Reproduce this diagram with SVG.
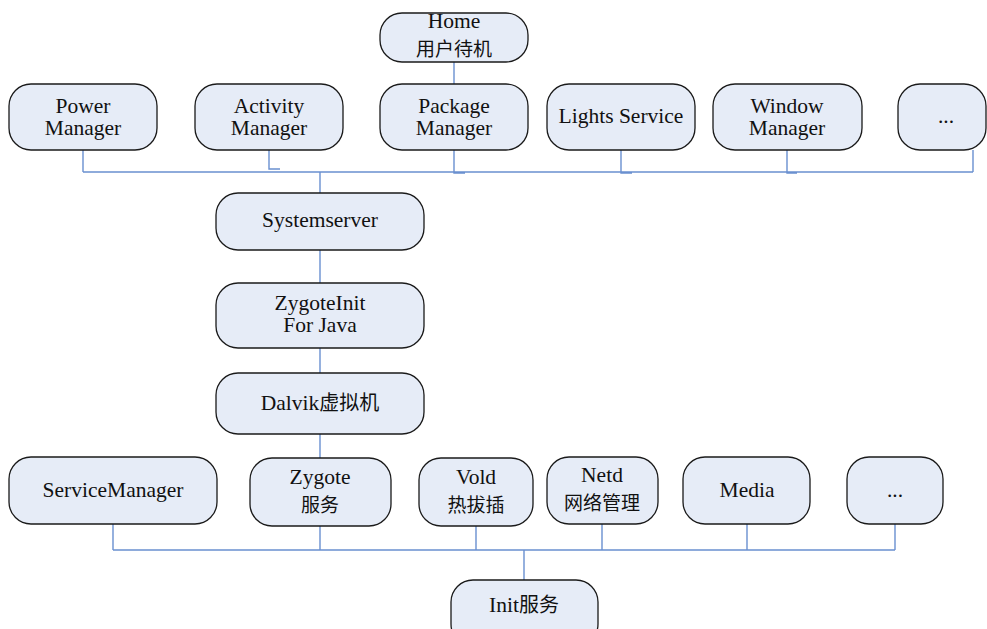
<svg xmlns="http://www.w3.org/2000/svg" width="987" height="629" viewBox="0 0 987 629">
<style>
.n rect{fill:#e6ecf7;stroke:#1a1a1a;stroke-width:1.3}
.n text{font-family:"Liberation Serif","Times New Roman",serif;font-size:21.5px;fill:#111;text-anchor:middle}
.n .z{font-family:"Noto Sans CJK SC","Liberation Serif",sans-serif;font-size:20px}
.n .z2{font-family:"Noto Sans CJK SC","Liberation Serif",sans-serif;font-size:19px}
.c{fill:none;stroke:#6a90d0;stroke-width:1.4}
</style>
<rect width="987" height="629" fill="#fff"/>
<g id="connectors">
<path class="c" d="M454,62V84"/>
<path class="c" d="M83,150V172M269,150V169H280M454,150V173H465M621,150V173H632M787,150V173H797M973,150V172M83,172H973M320,172V193"/>
<path class="c" d="M320,250V283M320,348V373M320,434V458"/>
<path class="c" d="M113,524V550M320,526V550M476,526V550M602,524V550M747,524V550M895,524V550M113,550H895M524,550V580"/>
</g>
<g id="home" class="n"><rect x="380" y="13" width="148" height="49" rx="22"/><text x="454" y="28">Home</text><text class="z2" x="454" y="55.5">用户待机</text></g>
<g id="power" class="n"><rect x="9" y="84" width="148" height="66" rx="22"/><text x="83" y="113">Power</text><text x="83" y="135">Manager</text></g>
<g id="activity" class="n"><rect x="195" y="84" width="148" height="66" rx="22"/><text x="269" y="113">Activity</text><text x="269" y="135">Manager</text></g>
<g id="package" class="n"><rect x="380" y="84" width="148" height="66" rx="22"/><text x="454" y="113">Package</text><text x="454" y="135">Manager</text></g>
<g id="lights" class="n"><rect x="547" y="84" width="148" height="66" rx="22"/><text x="621" y="123">Lights Service</text></g>
<g id="window" class="n"><rect x="713" y="84" width="149" height="66" rx="22"/><text x="787" y="113">Window</text><text x="787" y="135">Manager</text></g>
<g id="more-top" class="n"><rect x="898" y="84" width="88" height="66" rx="22"/><text x="946" y="123">...</text></g>
<g id="systemserver" class="n"><rect x="216" y="193" width="208" height="57" rx="22"/><text x="320" y="227">Systemserver</text></g>
<g id="zygoteinit" class="n"><rect x="216" y="283" width="208" height="65" rx="22"/><text x="320" y="310">ZygoteInit</text><text x="320" y="332">For Java</text></g>
<g id="dalvik" class="n"><rect x="216" y="373" width="208" height="61" rx="22"/><text x="320" y="410">Dalvik<tspan class="z">虚拟机</tspan></text></g>
<g id="servicemanager" class="n"><rect x="9" y="457" width="208" height="67" rx="22"/><text x="113" y="497">ServiceManager</text></g>
<g id="zygote" class="n"><rect x="250" y="458" width="141" height="68" rx="22"/><text x="320" y="484">Zygote</text><text class="z2" x="320" y="511.5">服务</text></g>
<g id="vold" class="n"><rect x="419" y="458" width="114" height="68" rx="22"/><text x="476" y="484">Vold</text><text class="z2" x="476" y="511.5">热拔插</text></g>
<g id="netd" class="n"><rect x="547" y="457" width="111" height="67" rx="22"/><text x="602" y="482">Netd</text><text class="z2" x="602" y="509.5">网络管理</text></g>
<g id="media" class="n"><rect x="683" y="457" width="127" height="67" rx="22"/><text x="747" y="497">Media</text></g>
<g id="more-bottom" class="n"><rect x="847" y="457" width="96" height="67" rx="22"/><text x="895" y="497">...</text></g>
<g id="init" class="n"><rect x="451" y="580" width="147" height="66" rx="22"/><text x="524" y="612">Init<tspan class="z">服务</tspan></text></g>
</svg>
